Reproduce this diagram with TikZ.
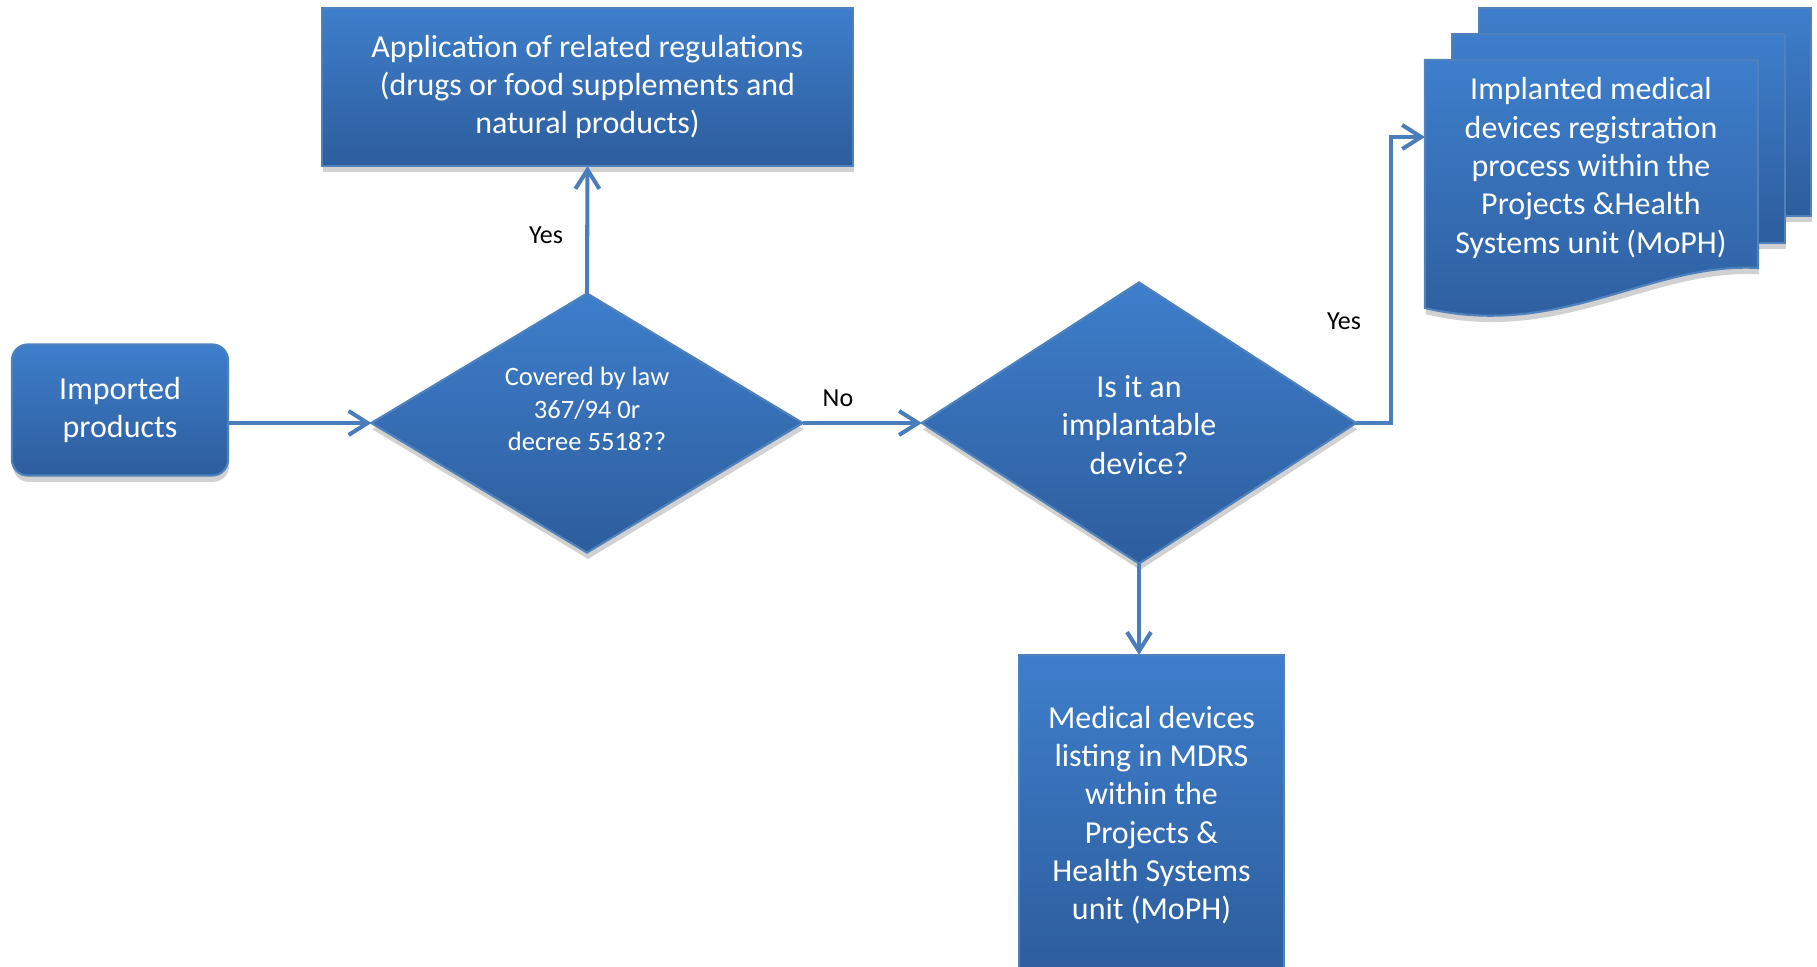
\documentclass[tikz,border=0pt]{standalone}
\usepackage{fontspec}
\setmainfont{Carlito}
\usetikzlibrary{shapes.geometric,arrows.meta,shadows}

\definecolor{boxtop}{RGB}{62,126,203}
\definecolor{boxbot}{RGB}{45,93,157}
\definecolor{boxline}{RGB}{79,129,189}
\definecolor{flowline}{RGB}{74,126,187}

\tikzset{
  blue fill/.style={draw=boxline, line width=0.6pt, top color=boxtop, bottom color=boxbot,
    drop shadow={shadow xshift=0.3pt, shadow yshift=-1.8pt, opacity=0.18, fill=black}},
  procbox/.style={rectangle, blue fill, text=white, align=center, inner sep=0pt, outer sep=0pt,
    font=\fontsize{9.1}{10.9}\selectfont},
  decision/.style={diamond, blue fill, inner sep=0pt, outer sep=0pt},
  wtext/.style={text=white, align=center, font=\fontsize{9.1}{10.9}\selectfont},
  lbl/.style={font=\fontsize{7.4}{8.8}\selectfont},
  flow/.style={draw=flowline, line width=1.15pt,
    -{Straight Barb[length=0.19cm, width=0.24cm, line width=1.15pt]}},
}

\begin{document}
\begin{tikzpicture}[x=0.01cm, y=-0.01cm]
        \useasboundingbox (0,0) rectangle (1817,967);
        \clip (0,0) rectangle (1817,967);
        %% the three pages, back to front
        \path[blue fill] (1479,8) rectangle (1811,216);
        \path[blue fill] (1452,34) rectangle (1785,243);
        \path[blue fill] (1425,60) -- (1758,60) -- (1758,268)
          .. controls (1650,262) and (1560,340) .. (1425,308) -- cycle;

        \node[procbox, rounded corners=4.5pt, minimum width=2.16cm, minimum height=1.31cm]
          (imp) at (120,410) {Imported\\products};
        \node[procbox, minimum width=5.31cm, minimum height=1.58cm]
          (app) at (587.5,87) {Application of related regulations\\(drugs or food supplements and\\natural products)};
        \node[decision, aspect=1.66, minimum width=4.31cm, minimum height=2.59cm]
          (d1) at (587,423) {};
        \node[wtext, font=\fontsize{7.55}{9.2}\selectfont]
          (d1txt) at (587,409) {Covered by law\\367/94 0r\\decree 5518??};
        \node[decision, aspect=1.54, minimum width=4.34cm, minimum height=2.81cm]
          (d2) at (1139,423) {};
        \node[wtext] (d2txt) at (1139,425) {Is it an\\implantable\\device?};
        \node[procbox, minimum width=2.65cm, minimum height=3.2cm]
          (mdrs) at (1151.5,815) {Medical devices\\listing in MDRS\\within the\\Projects \&\\Health Systems\\unit (MoPH)};
        \node[wtext] (impl) at (1591,168)
          {Implanted medical\\devices registration\\process within the\\Projects \&Health\\Systems unit (MoPH)};
        \coordinate (docin) at (1425,137);

        \node[lbl] (yes1) at (546,235) {Yes};
        \node[lbl] (no1)  at (838,398) {No};
        \node[lbl] (yes2) at (1344,321) {Yes};

        \draw[flow] (imp.east |- d1.west) -- (d1.west);
        \draw[flow] (d1.north) -- (app.south);
        \draw[flow] (d1.east) -- (d2.west);
        \draw[flow] (d2.south) -- (d2.south |- mdrs.north);
        \draw[flow] (d2.east) -- ++(35,0) |- (docin);
      \end{tikzpicture}
\end{document}
